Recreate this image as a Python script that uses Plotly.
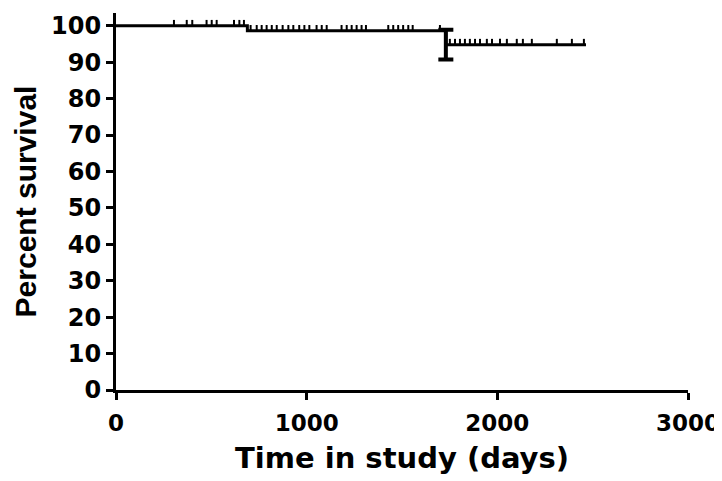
import plotly.graph_objects as go

# Kaplan-Meier steps: (time of drop, survival after drop)
step_times = [0, 689, 1730]
step_levels = [100.0, 98.6, 94.8]
end_time = 2465

# censored observations (days) per level
censor_100 = [304, 371, 400, 475, 502, 528, 619, 647, 671]
censor_986 = [706, 738, 764, 790, 817, 843, 874, 904, 930, 961, 988, 1014,
              1052, 1079, 1105, 1183, 1210, 1236, 1262, 1288, 1311,
              1428, 1454, 1480, 1506, 1533, 1556, 1699]
censor_948 = [1751, 1778, 1804, 1830, 1856, 1883, 1909, 1945, 1972, 2014,
              2050, 2102, 2134, 2181, 2312, 2391, 2454]

# standard error bar at the second drop
err_time = 1730
err_level = 94.8
err_size = 4.1

x_ticks = [0, 1000, 2000, 3000]
y_ticks = list(range(0, 101, 10))

TICK_H = 1.6  # censor mark height in y units (style)

# build step line
sx, sy = [], []
for i, (t, lv) in enumerate(zip(step_times, step_levels)):
    if i > 0:
        sx.append(t); sy.append(step_levels[i - 1])
    sx.append(t); sy.append(lv)
sx.append(end_time); sy.append(step_levels[-1])

fig = go.Figure()
fig.add_trace(go.Scatter(x=sx, y=sy, mode="lines",
                         line=dict(color="black", width=3), hoverinfo="skip"))

cx, cy = [], []
for lv, arr in [(100.0, censor_100), (98.6, censor_986), (94.8, censor_948)]:
    for t in arr:
        cx += [t, t, None]
        cy += [lv, lv + TICK_H, None]
fig.add_trace(go.Scatter(x=cx, y=cy, mode="lines",
                         line=dict(color="black", width=2), hoverinfo="skip"))

fig.add_trace(go.Scatter(x=[err_time], y=[err_level], mode="markers",
                         marker=dict(size=1, color="black", opacity=0),
                         error_y=dict(type="data", array=[err_size], visible=True,
                                      color="black", thickness=4, width=7.5),
                         hoverinfo="skip"))

wide_font = "DejaVu Sans, sans-serif"
arial = "Liberation Sans, Arial, sans-serif"
fig.update_layout(
    width=714, height=473,
    margin=dict(l=108, r=34, t=5, b=91, autoexpand=False),
    paper_bgcolor="white", plot_bgcolor="white",
    showlegend=False,
    font=dict(family=arial, color="black"),
    xaxis=dict(range=[0, 3000], tickvals=x_ticks, ticks="outside", ticklen=7,
               tickwidth=3, tickcolor="black", showline=True, linewidth=3,
               linecolor="black", showgrid=False, zeroline=False,
               automargin=False, ticklabelstandoff=3,
               tickfont=dict(size=23, family=wide_font, weight="bold"),
               title=dict(text="<b>Time in study (days)</b>",
                          font=dict(size=29, family=wide_font), standoff=14)),
    yaxis=dict(range=[0, 103.5], tickvals=y_ticks, ticks="outside", ticklen=7,
               tickwidth=3, tickcolor="black", showline=True, linewidth=3,
               linecolor="black", showgrid=False, zeroline=False,
               automargin=False,
               tickfont=dict(size=24, family=wide_font, weight="bold"),
               title=dict(text="<b>Percent survival</b>",
                          font=dict(size=30, family=arial), standoff=6)),
)

fig.write_html("out.html")
